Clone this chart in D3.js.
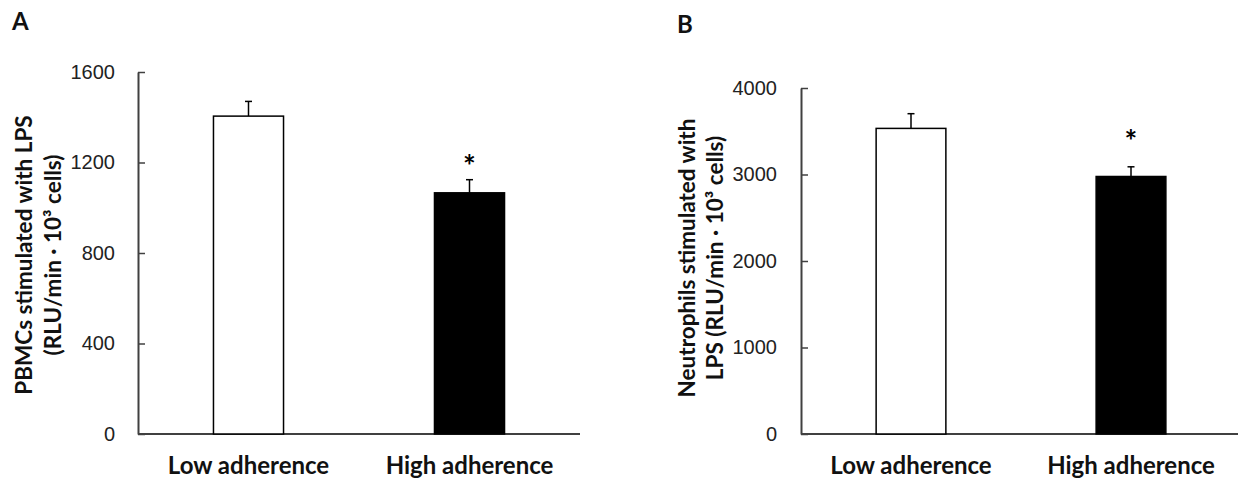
<!DOCTYPE html>
<html lang="en">
<head>
<meta charset="UTF-8">
<title>Adherence bar charts</title>
<script src="https://d3js.org/d3.v7.min.js"></script>
<style>
  body { margin: 0; background: #fff; }
  svg { display: block; font-family: Lato, "Open Sans", sans-serif; }
  .tick text { font-size: 20px; fill: #222; }
  .tick line { stroke: #404040; stroke-width: 1.5; }
  .domain { stroke: #404040; stroke-width: 2; }
  .cat { font-size: 24px; font-weight: bold; fill: #111; }
  .ytitle { font-size: 22.5px; font-weight: bold; fill: #111; }
  .panel { font-size: 24px; font-weight: bold; fill: #111; }
</style>
</head>
<body>
<script>
// values
const categories = ["Low adherence", "High adherence"];
const barFills = ["#fff", "#000"];
const significant = [false, true];

const pbmcMeans = [1405, 1066];
const pbmcErrors = [65, 58];
const pbmcTicks = [0, 400, 800, 1200, 1600];

const neutroMeans = [3533, 2977];
const neutroErrors = [170, 112];
const neutroTicks = [0, 1000, 2000, 3000, 4000];

const width = 1238, height = 479;

const svg = d3.select("body").append("svg")
    .attr("width", width)
    .attr("height", height);

const panels = [
  {
    letter: "A", letterX: 12, letterY: 30,
    means: pbmcMeans, errors: pbmcErrors, ticks: pbmcTicks,
    x0: 138, x1: 580, yTop: 72, yZero: 434, tickPad: 23,
    title: ["PBMCs stimulated with LPS", "(RLU/min \u00b7 10\u00b3 cells)"],
    titleX: [32, 61], titleY: 255, starGap: 21
  },
  {
    letter: "B", letterX: 677, letterY: 33,
    means: neutroMeans, errors: neutroErrors, ticks: neutroTicks,
    x0: 801, x1: 1241, yTop: 88, yZero: 434, tickPad: 24,
    title: ["Neutrophils stimulated with", "LPS (RLU/min \u00b7 10\u00b3 cells)"],
    titleX: [695, 723], titleY: 258, starGap: 33
  }
];

panels.forEach(p => {
  const g = svg.append("g");

  const y = d3.scaleLinear()
      .domain([0, d3.max(p.ticks)])
      .range([p.yZero, p.yTop]);

  // step of 221 px with 70 px bars
  const x = d3.scaleBand()
      .domain(categories)
      .range([p.x0, p.x1])
      .paddingInner(0.683)
      .paddingOuter(0.3415);

  // y axis, ticks pointing inward
  g.append("g")
      .attr("transform", `translate(${p.x0},0)`)
      .call(d3.axisLeft(y).tickValues(p.ticks).tickFormat(d3.format("d"))
        .tickSizeInner(-7).tickSizeOuter(0).tickPadding(p.tickPad))
      .call(a => a.selectAll(".tick text").attr("font-family", null));

  // x axis line only
  g.append("line")
      .attr("class", "domain")
      .attr("x1", p.x0).attr("x2", p.x1)
      .attr("y1", y(0)).attr("y2", y(0));

  const rows = categories.map((c, i) => ({ c, i, v: p.means[i], e: p.errors[i] }));

  // error bars (drawn under the bars)
  const err = g.append("g").selectAll("g").data(rows).join("g")
      .attr("stroke", "#000").attr("stroke-width", 1.5);
  err.append("line")
      .attr("x1", d => x(d.c) + x.bandwidth() / 2)
      .attr("x2", d => x(d.c) + x.bandwidth() / 2)
      .attr("y1", d => y(d.v))
      .attr("y2", d => y(d.v + d.e));
  err.append("line")
      .attr("x1", d => x(d.c) + x.bandwidth() / 2 - 3.5)
      .attr("x2", d => x(d.c) + x.bandwidth() / 2 + 3.5)
      .attr("y1", d => y(d.v + d.e))
      .attr("y2", d => y(d.v + d.e));

  g.append("g").selectAll("rect").data(rows).join("rect")
      .attr("x", d => x(d.c))
      .attr("y", d => y(d.v))
      .attr("width", x.bandwidth())
      .attr("height", d => y(0) - y(d.v))
      .attr("fill", d => barFills[d.i])
      .attr("stroke", "#000")
      .attr("stroke-width", 1.5);

  // significance stars
  g.append("g").selectAll("text").data(rows.filter(d => significant[d.i])).join("text")
      .attr("x", d => x(d.c) + x.bandwidth() / 2)
      .attr("y", d => y(d.v + d.e) - p.starGap)
      .attr("dy", "0.62em")
      .attr("text-anchor", "middle")
      .attr("font-size", 30)
      .attr("font-weight", "bold")
      .text("*");

  // category labels
  g.append("g").selectAll("text").data(rows).join("text")
      .attr("class", "cat")
      .attr("x", d => x(d.c) + x.bandwidth() / 2)
      .attr("y", 474)
      .attr("text-anchor", "middle")
      .text(d => d.c);

  // y title, two lines
  p.title.forEach((t, k) => {
    g.append("text")
        .attr("class", "ytitle")
        .attr("transform", `translate(${p.titleX[k]},${p.titleY}) rotate(-90)`)
        .attr("text-anchor", "middle")
        .text(t);
  });

  g.append("text")
      .attr("class", "panel")
      .attr("x", p.letterX)
      .attr("y", p.letterY)
      .text(p.letter);
});
</script>
</body>
</html>
